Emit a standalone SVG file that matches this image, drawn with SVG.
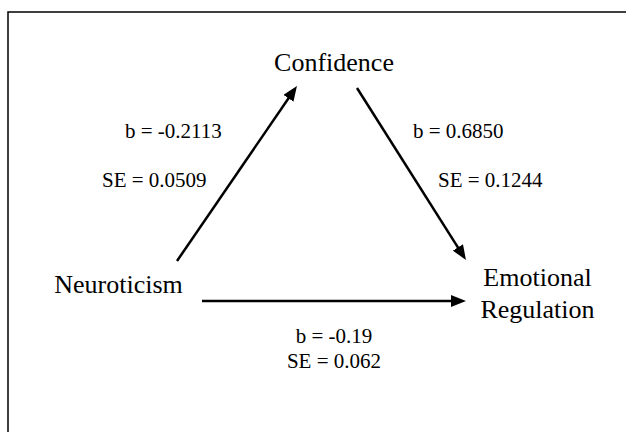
<svg xmlns="http://www.w3.org/2000/svg" width="626" height="432" viewBox="0 0 626 432">
<style>
.node{font-family:"Liberation Serif","Times New Roman",serif;font-size:26px;fill:#000}
.lab{font-family:"Liberation Serif","Times New Roman",serif;font-size:21px;fill:#000}
.conn{stroke:#000;stroke-width:2.5;fill:none;marker-end:url(#ah)}
</style>
<defs>
<marker id="ah" markerWidth="15" markerHeight="12" refX="5" refY="6" orient="auto" markerUnits="userSpaceOnUse">
<path d="M0,0 L15,6 L0,12 Z" fill="#000"/>
</marker>
</defs>
<rect x="8" y="12" width="640" height="440" fill="#fff" stroke="#000" stroke-width="1.5"/>
<g id="connectors">
<line class="conn" x1="177" y1="261" x2="291.3" y2="94.2"/>
<line class="conn" x1="357" y1="88" x2="460.6" y2="251.6"/>
<line class="conn" x1="202" y1="301" x2="456" y2="301"/>
</g>
<g id="confidence"><text class="node" x="334" y="71" text-anchor="middle">Confidence</text></g>
<g id="neuroticism"><text class="node" x="118.5" y="293" text-anchor="middle">Neuroticism</text></g>
<g id="emotional-regulation"><text class="node" x="537.5" y="286" text-anchor="middle">Emotional</text><text class="node" x="537.5" y="318" text-anchor="middle">Regulation</text></g>
<g id="labels">
<text class="lab" x="125" y="138">b = -0.2113</text>
<text class="lab" x="102" y="187">SE = 0.0509</text>
<text class="lab" x="413" y="138">b = 0.6850</text>
<text class="lab" x="438" y="187">SE = 0.1244</text>
<text class="lab" x="334" y="343" text-anchor="middle">b = -0.19</text>
<text class="lab" x="334" y="368" text-anchor="middle">SE = 0.062</text>
</g>
</svg>
